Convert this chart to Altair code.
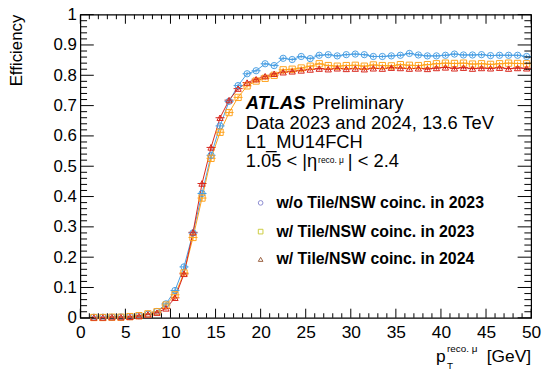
import altair as alt
import pandas as pd

# ---------------- data ----------------
pt = [1.5, 2.5, 3.5, 4.5, 5.5, 6.5, 7.5, 8.5, 9.5, 10.5, 11.5, 12.5, 13.5, 14.5,
      15.5, 16.5, 17.5, 18.5, 19.5, 20.5, 21.5, 22.5, 23.5, 24.5, 25.5, 26.5,
      27.5, 28.5, 29.5, 30.5, 31.5, 32.5, 33.5, 34.5, 35.5, 36.5, 37.5, 38.5,
      39.5, 40.5, 41.5, 42.5, 43.5, 44.5, 45.5, 46.5, 47.5, 48.5, 49.5]

eff_wo_2023 = [0.002, 0.002, 0.002, 0.003, 0.004, 0.007, 0.012, 0.021, 0.046, 0.090,
               0.168, 0.280, 0.410, 0.536, 0.633, 0.714, 0.766, 0.805, 0.815, 0.838,
               0.832, 0.856, 0.852, 0.862, 0.855, 0.866, 0.868, 0.864, 0.868, 0.870,
               0.868, 0.862, 0.862, 0.864, 0.866, 0.872, 0.867, 0.864, 0.864, 0.866,
               0.870, 0.867, 0.867, 0.868, 0.865, 0.866, 0.866, 0.866, 0.862]

eff_w_2023 = [0.001, 0.001, 0.002, 0.002, 0.004, 0.007, 0.013, 0.020, 0.042, 0.076,
              0.148, 0.265, 0.395, 0.526, 0.612, 0.677, 0.727, 0.765, 0.781, 0.790,
              0.800, 0.818, 0.820, 0.824, 0.830, 0.838, 0.832, 0.830, 0.832, 0.833,
              0.830, 0.834, 0.832, 0.831, 0.835, 0.833, 0.832, 0.835, 0.838, 0.840,
              0.839, 0.840, 0.837, 0.838, 0.836, 0.838, 0.840, 0.839, 0.838]

eff_w_2024 = [0.001, 0.001, 0.002, 0.002, 0.003, 0.006, 0.011, 0.017, 0.031, 0.066,
              0.145, 0.282, 0.443, 0.562, 0.660, 0.718, 0.756, 0.776, 0.787, 0.797,
              0.805, 0.810, 0.813, 0.816, 0.819, 0.822, 0.820, 0.823, 0.821, 0.822,
              0.820, 0.823, 0.822, 0.825, 0.824, 0.822, 0.823, 0.821, 0.824, 0.826,
              0.823, 0.825, 0.822, 0.824, 0.823, 0.825, 0.822, 0.824, 0.823]

eff_err = [0.002, 0.002, 0.002, 0.002, 0.002, 0.003, 0.003, 0.004, 0.006, 0.008,
           0.009, 0.010, 0.010, 0.010, 0.009, 0.008, 0.007, 0.006, 0.006, 0.006,
           0.006, 0.006, 0.006, 0.006, 0.006, 0.006, 0.006, 0.006, 0.006, 0.006,
           0.006, 0.006, 0.006, 0.006, 0.006, 0.006, 0.006, 0.006, 0.006, 0.006,
           0.006, 0.006, 0.006, 0.006, 0.006, 0.006, 0.006, 0.006, 0.006]

bin_half_width = 0.5

series_names = ["w/o Tile/NSW coinc. in 2023",
                "w/ Tile/NSW coinc. in 2023",
                "w/ Tile/NSW coinc. in 2024"]
series_values = [eff_wo_2023, eff_w_2023, eff_w_2024]
series_colors = ["#4a9fe3", "#ffa21c", "#d8261c"]
series_shapes = ["circle", "square", "triangle-up"]
legend_marker_colors = ["#8c8cd0", "#cccc40", "#9a6040"]

x_major = [0, 5, 10, 15, 20, 25, 30, 35, 40, 45, 50]
x_minor = [i for i in range(0, 51) if i % 5 != 0]
y_major = [0, 0.1, 0.2, 0.3, 0.4, 0.5, 0.6, 0.7, 0.8, 0.9, 1.0]
y_minor = [round(i * 0.02, 2) for i in range(0, 51) if i % 5 != 0]

header_lines = ["Data 2023 and 2024, 13.6 TeV", "L1_MU14FCH"]
atlas_label = "ATLAS"
prelim_label = "Preliminary"
eta_parts = ["1.05 < |η", "reco. μ", "| < 2.4"]
x_title_parts = ["p", "reco. μ", "T", "[GeV]"]
y_title = "Efficiency"

FONT = "Liberation Sans"
W, H = 455, 306
HDR = 18.5

# ---------------- build table ----------------
rows = []
for name, vals, order in zip(series_names, series_values, range(3)):
    for x, v, e in zip(pt, vals, eff_err):
        rows.append({"pt": x, "eff": v, "lo": v - e, "hi": v + e,
                     "xlo": x - bin_half_width, "xhi": x + bin_half_width,
                     "series": name, "order": order})
df = pd.DataFrame(rows)

xscale = alt.Scale(domain=[0, 50], nice=False, zero=False)
yscale = alt.Scale(domain=[0, 1], nice=False, zero=False)
xaxis = alt.Axis(values=x_major, labelFont=FONT, labelFontSize=17.5, labelColor="black",
                 ticks=False, tickSize=0, domain=False, grid=False, title=None,
                 labelPadding=6, labelFlush=False)
yaxis = alt.Axis(values=y_major, format=".1~f", labelFont=FONT, labelFontSize=17,
                 labelColor="black", ticks=False, tickSize=0, domain=False, grid=False,
                 title=None, labelPadding=4, labelFlush=False)

X = alt.X("pt:Q", scale=xscale, axis=xaxis)
Y = alt.Y("eff:Q", scale=yscale, axis=yaxis)
color = alt.Color("series:N", scale=alt.Scale(domain=series_names, range=series_colors), legend=None)
shape = alt.Shape("series:N", scale=alt.Scale(domain=series_names, range=series_shapes), legend=None)

base = alt.Chart(df)

lines = base.mark_line(strokeWidth=1).encode(x=X, y=Y, color=color, detail="series:N",
                                              order="pt:Q")
hbars = base.mark_rule(strokeWidth=1).encode(
    x=alt.X("xlo:Q", scale=xscale, axis=xaxis), x2="xhi:Q", y=Y, color=color)
vbars = base.mark_rule(strokeWidth=1).encode(
    x=X, y=alt.Y("lo:Q", scale=yscale, axis=yaxis), y2="hi:Q", color=color)
points = base.mark_point(filled=False, size=40, strokeWidth=1, opacity=1).encode(
    x=X, y=Y, color=color, shape=shape)

# ROOT-style inner ticks on all four sides
def yticks(values, length):
    d = pd.DataFrame({"eff": values})
    left = alt.Chart(d).mark_rule(color="black", strokeWidth=1).encode(
        y=Y, x=alt.value(0), x2=alt.value(length))
    right = alt.Chart(d).mark_rule(color="black", strokeWidth=1).encode(
        y=Y, x=alt.value(W), x2=alt.value(W - length))
    return [left, right]

def xticks(values, length):
    d = pd.DataFrame({"pt": values})
    bottom = alt.Chart(d).mark_rule(color="black", strokeWidth=1).encode(
        x=X, y=alt.value(H), y2=alt.value(H - length))
    top = alt.Chart(d).mark_rule(color="black", strokeWidth=1).encode(
        x=X, y=alt.value(0), y2=alt.value(length))
    return [bottom, top]

tick_layers = (yticks(y_major, 13.6) + yticks(y_minor, 6.8) +
               xticks(x_major, 9.2) + xticks(x_minor, 4.6))

def label(text, x, y, size=17, weight="normal", style="normal", align="left",
          baseline="alphabetic", angle=0, color="black"):
    return alt.Chart(pd.DataFrame({"t": [text]})).mark_text(
        font=FONT, fontSize=size, fontWeight=weight, fontStyle=style, align=align,
        baseline=baseline, angle=angle, color=color).encode(
        text="t:N", x=alt.value(x), y=alt.value(y))

texts = [
    label(atlas_label, 167, 95, size=HDR, weight="bold", style="italic"),
    label(prelim_label, 234, 95, size=HDR),
    label(header_lines[0], 167, 115, size=HDR),
    label(header_lines[1], 167, 135, size=HDR),
    label(eta_parts[0], 167, 154, size=HDR),
    label(eta_parts[1], 240, 149.5, size=8.5),
    label(eta_parts[2], 270, 154, size=HDR),
    label(y_title, -64, 0, align="right", baseline="middle", angle=270, size=17),
    label(x_title_parts[0], 359, 351, size=17.5),
    label(x_title_parts[1], 370, 341, size=10),
    label(x_title_parts[2], 370, 358, size=10),
    label(x_title_parts[3], W, 351, align="right", size=17.5),
]

legend_y = [190, 219, 247]
legend_layers = []
for name, shp, col, ly in zip(series_names, series_shapes, legend_marker_colors, legend_y):
    legend_layers.append(
        alt.Chart(pd.DataFrame({"t": [name]})).mark_point(
            shape=shp, filled=False, size=22, strokeWidth=1, color=col, opacity=1).encode(
            x=alt.value(182), y=alt.value(ly)))
    legend_layers.append(label(name, 198, ly + 5, size=16, weight="bold"))

chart = alt.layer(
    lines, hbars, vbars, points, *tick_layers, *texts, *legend_layers
).properties(
    width=W, height=H,
    autosize=alt.AutoSizeParams(type="none"),
    padding={"left": 73, "top": 5, "right": 11, "bottom": 54},
    background="white",
).configure_view(stroke="black", strokeWidth=1.2)

chart.save("out.html", embed_options={"renderer": "svg", "actions": False})
